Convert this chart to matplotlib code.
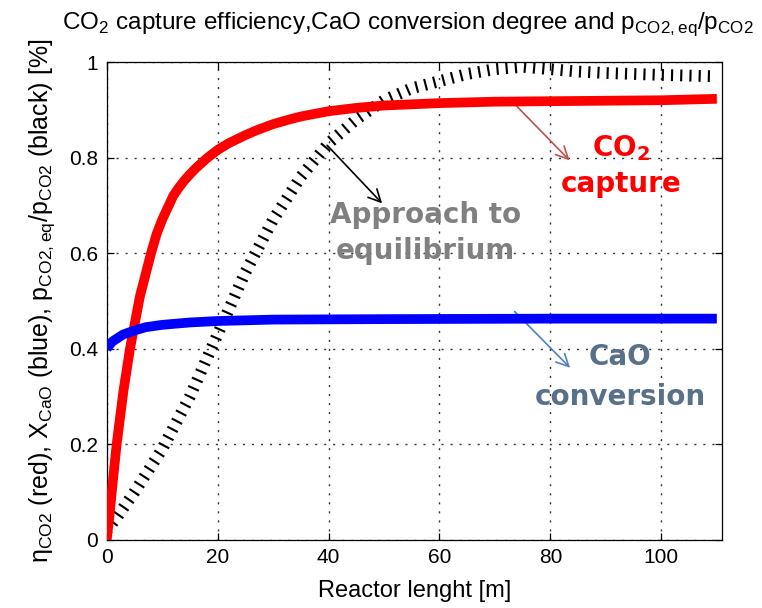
import matplotlib
matplotlib.use("Agg")
import matplotlib.pyplot as plt

plt.rcParams['font.family'] = ['Liberation Sans', 'DejaVu Sans']
plt.rcParams['mathtext.fontset'] = 'custom'
plt.rcParams['mathtext.rm'] = 'Liberation Sans'

# reactor length [m] and the three profiles along it
x_red = [0, 0.5, 1, 1.8, 3, 4.2, 6, 8, 9, 10, 11, 12, 13, 14, 15, 16, 18, 20, 22, 25, 27,
         30, 33, 35, 40, 45, 50, 60, 70, 80, 100, 110]
co2_capture = [0, 0.05, 0.11, 0.2, 0.31, 0.4, 0.51, 0.6, 0.64, 0.67, 0.695, 0.72, 0.737, 0.752,
               0.765, 0.777, 0.798, 0.816, 0.83, 0.847, 0.857, 0.87, 0.88, 0.886, 0.897, 0.904,
               0.909, 0.914, 0.917, 0.918, 0.92, 0.923]

x_blue = [0, 1, 3, 5, 7, 10, 15, 20, 30, 50, 80, 110]
cao_conversion = [0.40, 0.415, 0.43, 0.438, 0.445, 0.45, 0.455, 0.458, 0.461, 0.462, 0.463, 0.463]

x_black = [0, 2, 5, 10, 15, 20, 25, 30, 35, 40, 45, 50, 55, 60, 65, 70, 75, 80, 85, 90, 100, 110]
p_ratio = [0.02, 0.05, 0.10, 0.19, 0.30, 0.43, 0.56, 0.67, 0.76, 0.83, 0.88, 0.92, 0.945, 0.96,
           0.975, 0.985, 0.99, 0.985, 0.98, 0.977, 0.973, 0.97]

fig = plt.figure(figsize=(7.62, 6.08), dpi=100)
ax = fig.add_axes([0.140, 0.112, 0.808, 0.786])

ax.plot(x_black, p_ratio, color='black', lw=8.5, linestyle=(0, (0.18, 0.6)),
        dash_capstyle='butt', zorder=3)
ax.plot(x_red, co2_capture, color='#ff0000', lw=7, solid_capstyle='butt', zorder=4)
ax.plot(x_blue, cao_conversion, color='#0000ff', lw=7, solid_capstyle='butt', zorder=4)

ax.set_xlim(0, 111)
ax.set_ylim(0, 1)
ax.set_xticks([0, 20, 40, 60, 80, 100])
ax.set_yticks([0, 0.2, 0.4, 0.6, 0.8, 1])
ax.set_yticklabels(['0', '0.2', '0.4', '0.6', '0.8', '1'])
ax.grid(True, color='#333333', lw=1.0, linestyle=(0, (1.5, 5)))
ax.tick_params(direction='in', length=5, width=0.9, top=True, right=True,
               labelsize=15, pad=6)
for s in ax.spines.values():
    s.set_linewidth(0.9)

ax.set_title(r'CO$_\mathregular{2}$ capture efficiency,CaO conversion degree and '
             r'p$_\mathregular{CO2,eq}$/p$_\mathregular{CO2}$', fontsize=17.5, pad=24,
             x=0.49)
ax.set_xlabel('Reactor lenght [m]', fontsize=17, labelpad=9)
ax.set_ylabel(r'η$_\mathregular{CO2}$ (red), X$_\mathregular{CaO}$ (blue), '
              r'p$_\mathregular{CO2,eq}$/p$_\mathregular{CO2}$ (black) [%]', fontsize=18,
              labelpad=9)

# labels with arrows
bold = dict(family='DejaVu Sans', fontweight='bold', fontsize=20, ha='center')
ax.annotate('', xy=(83.8, 0.79), xytext=(73.3, 0.915),
            arrowprops=dict(arrowstyle='->', color='#c0504d', lw=1.2, mutation_scale=22))
ax.text(92.8, 0.82, r'CO$_\mathregular{2}$', color='#ff0000', va='center', **bold)
ax.text(92.8, 0.745, 'capture', color='#ff0000', va='center', **bold)

ax.annotate('', xy=(50, 0.70), xytext=(39.4, 0.83),
            arrowprops=dict(arrowstyle='->', color='black', lw=1.2, mutation_scale=22))
ax.text(57.5, 0.68, 'Approach to', color='#808080', va='center', **bold)
ax.text(57.5, 0.605, 'equilibrium', color='#808080', va='center', **bold)

ax.annotate('', xy=(83.9, 0.356), xytext=(73.2, 0.482),
            arrowprops=dict(arrowstyle='->', color='#4f81bd', lw=1.2, mutation_scale=22))
ax.text(92.6, 0.383, 'CaO', color='#587189', va='center', **bold)
ax.text(92.6, 0.30, 'conversion', color='#587189', va='center', **bold)

fig.savefig('out.png', dpi=100)
